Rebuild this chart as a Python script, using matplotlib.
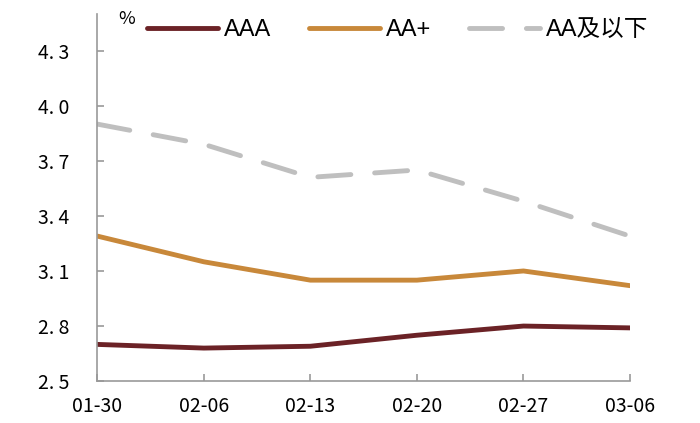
import matplotlib
matplotlib.use('Agg')
import matplotlib.pyplot as plt

plt.rcParams['font.family'] = ['Noto Sans CJK SC', 'DejaVu Sans']

dates = ['01-30', '02-06', '02-13', '02-20', '02-27', '03-06']
aaa = [2.70, 2.68, 2.69, 2.75, 2.80, 2.79]
aa_plus = [3.29, 3.15, 3.05, 3.05, 3.10, 3.02]
aa_below = [3.90, 3.79, 3.61, 3.65, 3.48, 3.29]
yticks = [2.5, 2.8, 3.1, 3.4, 3.7, 4.0, 4.3]
ytick_labels = ['2. 5', '2. 8', '3. 1', '3. 4', '3. 7', '4. 0', '4. 3']

fig = plt.figure(figsize=(7, 4.23), dpi=100)
ax = fig.add_axes([0.139, 0.099, 0.761, 0.868])

x = list(range(len(dates)))
ax.plot(x, aaa, color='#6B2226', lw=3.5, label='AAA', solid_capstyle='round')
ax.plot(x, aa_plus, color='#C8883A', lw=3.5, label='AA+', solid_capstyle='round')
ax.plot(x, aa_below, color='#BFBFBF', lw=3.5, label='AA及以下',
        dashes=(6.8, 4.9), dash_capstyle='round')

ax.set_xlim(0, len(dates) - 1)
ax.set_ylim(2.5, 4.5)
ax.set_xticks(x)
ax.set_xticklabels(dates, fontsize=14)
ax.set_yticks(yticks)
ax.set_yticklabels(ytick_labels, fontsize=14)

for s in ['top', 'right']:
    ax.spines[s].set_visible(False)
for s in ['left', 'bottom']:
    ax.spines[s].set_color('#999999')
    ax.spines[s].set_linewidth(1.2)
ax.tick_params(direction='in', length=5, color='#999999', width=1.2)
ax.tick_params(axis='x', pad=11)
ax.tick_params(axis='y', pad=20)

fig.text(0.181, 0.955, '%', fontsize=13, ha='center', va='center')

fig.legend(loc='center', bbox_to_anchor=(0.568, 0.929), ncol=3, frameon=False,
           prop={'family': ['Liberation Sans', 'Noto Sans CJK SC'], 'size': 17},
           handlelength=3.0, columnspacing=1.6, handletextpad=0.25)

fig.savefig('out.png', dpi=100)
